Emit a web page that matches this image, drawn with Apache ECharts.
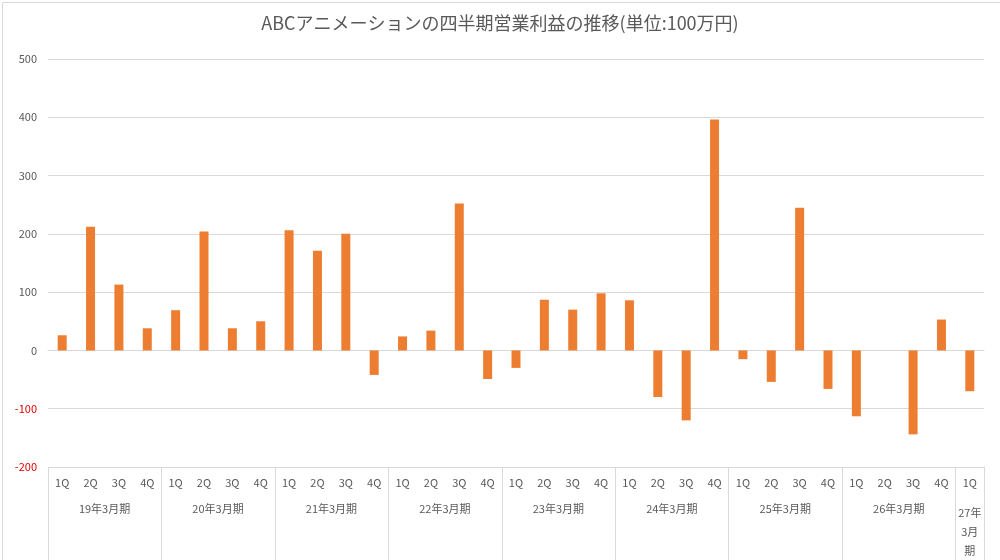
<!DOCTYPE html>
<html>
<head>
<meta charset="utf-8">
<script src="https://cdn.jsdelivr.net/npm/echarts@6/dist/echarts.min.js"></script>
<style>
  html, body { margin: 0; padding: 0; background: #fff; }
  #myChart { width: 1000px; height: 560px; }
</style>
</head>
<body>
<div id="myChart"></div>
<script>
// 四半期ごとの営業利益(単位:100万円)
const quarters = [
  '1Q', '2Q', '3Q', '4Q', '1Q', '2Q', '3Q', '4Q', '1Q', '2Q', '3Q', '4Q',
  '1Q', '2Q', '3Q', '4Q', '1Q', '2Q', '3Q', '4Q', '1Q', '2Q', '3Q', '4Q',
  '1Q', '2Q', '3Q', '4Q', '1Q', '2Q', '3Q', '4Q', '1Q'
]
const years = ['19年3月期', '20年3月期', '21年3月期', '22年3月期', '23年3月期',
  '24年3月期', '25年3月期', '26年3月期', '27年3月期']
const profit = [
  26, 212, 113, 38, 69, 204, 38, 50, 206, 171, 200, -42,
  24, 34, 252, -49, -30, 87, 70, 98, 86, -80, -120, 396,
  -15, -54, 245, -66, -113, 0, -144, 53, -70
]
const yTicks = [-200, -100, 0, 100, 200, 300, 400, 500]

const font = '"Noto Sans CJK JP", "Noto Sans", sans-serif'
const gray = '#595959'
const lineColor = '#d9d9d9'

let myChart = echarts.init(document.getElementById('myChart'))
myChart.setOption({
  backgroundColor: '#fff',
  textStyle: { fontFamily: font },
  title: {
    text: 'ABCアニメーションの四半期営業利益の推移(単位:100万円)',
    left: 'center',
    top: 9,
    textStyle: { fontFamily: font, fontSize: 18, fontWeight: 'normal', color: gray }
  },
  grid: [
    { left: 48, right: 16, top: 59, bottom: 93 },
    // 横軸ラベル部分(年度の区切り線用)
    { left: 48, right: 16, top: 467, bottom: 0 }
  ],
  xAxis: [
    {
      type: 'category',
      data: quarters,
      position: 'bottom',
      axisLine: { lineStyle: { color: lineColor } },
      axisTick: { show: false },
      axisLabel: { interval: 0, margin: 10, color: gray, fontSize: 11, fontFamily: font }
    },
    {
      type: 'category',
      data: quarters,
      position: 'bottom',
      axisLine: { show: false },
      axisTick: { show: false },
      axisLabel: {
        interval: 0,
        margin: 36,
        color: gray,
        fontSize: 11,
        fontFamily: font,
        formatter: (v, i) => {
          if (i === 32) return '{b|' + years[8].slice(0, 3) + '}\n{b|' + years[8].slice(3, 5) + '}\n{b|' + years[8].slice(5) + '}'
          if (i % 4 === 1) return '{a|' + years[Math.floor(i / 4)] + '}'
          return ''
        },
        rich: {
          a: { padding: [0, 0, 0, 28], color: gray, fontSize: 11, fontFamily: font },
          b: { color: gray, fontSize: 11, fontFamily: font, lineHeight: 19 }
        }
      }
    },
    {
      type: 'category',
      gridIndex: 1,
      data: quarters,
      axisLine: { show: false },
      axisTick: { show: false },
      axisLabel: { show: false },
      splitLine: {
        show: true,
        interval: (i) => i % 4 === 0,
        lineStyle: { color: lineColor }
      }
    }
  ],
  yAxis: [
    {
      type: 'value',
      min: yTicks[0],
      max: yTicks[yTicks.length - 1],
      interval: 100,
      axisLine: { show: false },
      axisTick: { show: false },
      splitLine: { lineStyle: { color: lineColor } },
      axisLabel: {
        margin: 11,
        fontSize: 11,
        fontFamily: font,
        color: (v) => (v < 0 ? '#e00000' : gray)
      }
    },
    {
      // 右端の縦線
      type: 'value',
      gridIndex: 1,
      position: 'right',
      min: 0,
      max: 1,
      axisLine: { show: true, onZero: false, lineStyle: { color: lineColor } },
      axisTick: { show: false },
      axisLabel: { show: false },
      splitLine: { show: false }
    }
  ],
  series: [
    {
      type: 'bar',
      data: profit,
      barWidth: 9,
      itemStyle: { color: '#ED7D31' }
    }
  ],
  graphic: [
    {
      type: 'rect',
      left: 0,
      top: 0,
      shape: { x: 0.5, y: 0.5, width: 999, height: 559 },
      style: { fill: 'none', stroke: lineColor, lineWidth: 1 },
      silent: true
    }
  ]
})
</script>
</body>
</html>
